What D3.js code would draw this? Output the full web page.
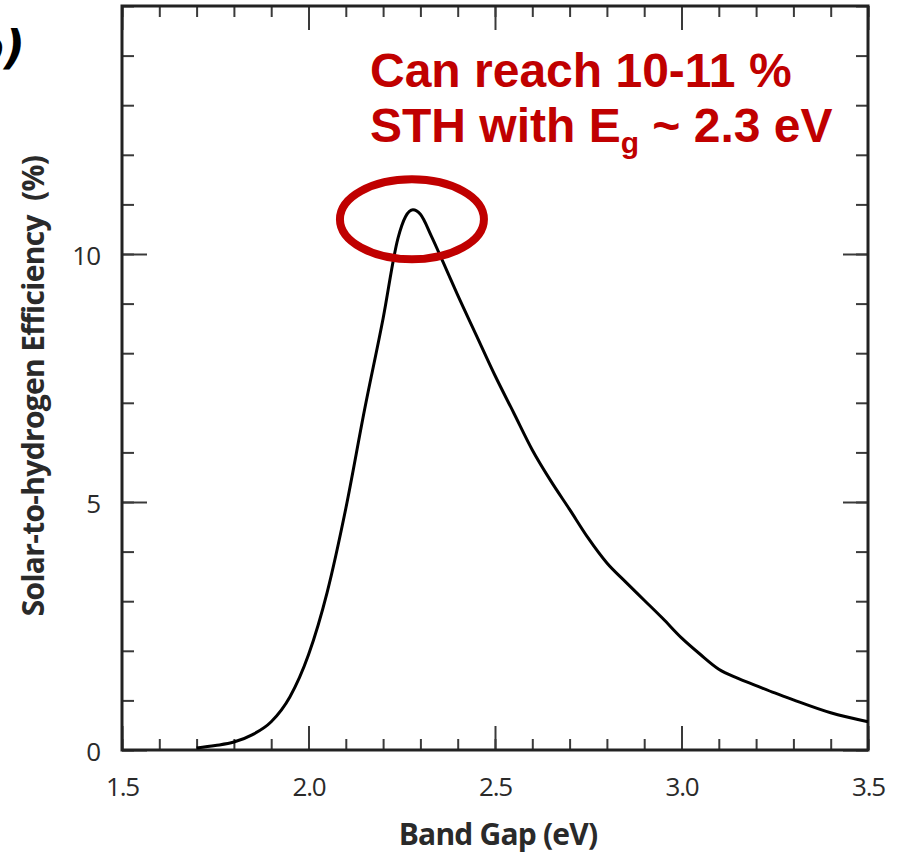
<!DOCTYPE html>
<html>
<head>
<meta charset="utf-8">
<script src="https://cdn.jsdelivr.net/npm/d3@7"></script>
<style>
  html, body { margin: 0; padding: 0; background: #fff; }
  svg { display: block; }
</style>
</head>
<body>
<svg id="chart-svg" width="897" height="855"></svg>
<script>
// band gap (eV) and solar-to-hydrogen efficiency (%)
const bandGap = [1.70, 1.75, 1.80, 1.85, 1.90, 1.95, 2.00, 2.05, 2.10, 2.15, 2.20, 2.24, 2.26, 2.28, 2.30,
                 2.33, 2.36, 2.40, 2.45, 2.50, 2.55, 2.60, 2.65, 2.70, 2.75, 2.80, 2.85, 2.90, 2.95, 3.00,
                 3.05, 3.10, 3.15, 3.20, 3.25, 3.30, 3.40, 3.50];
const sthEfficiency = [0.04, 0.09, 0.16, 0.31, 0.57, 1.07, 1.92, 3.18, 4.87, 6.85, 8.70, 10.32, 10.75, 10.89, 10.80,
                       10.35, 9.85, 9.17, 8.36, 7.55, 6.80, 6.05, 5.42, 4.85, 4.27, 3.77, 3.39, 3.02, 2.65, 2.26,
                       1.93, 1.63, 1.45, 1.30, 1.15, 1.01, 0.75, 0.57];

const xMajorTicks = [1.5, 2.0, 2.5, 3.0, 3.5];
const xMinorTicks = d3.range(1.5, 3.51, 0.1);
const yMajorTicks = [0, 5, 10];
const yMinorTicks = d3.range(0, 15.01, 1);

const annotationLines = ["Can reach 10-11 %", "STH with E"];
const peak = { x: 2.28, y: 10.7 };

function createChart() {
    const size = { left: 122, right: 868, top: 6, bottom: 750 };
    const svg = d3.select('#chart-svg');

    const xScale = d3.scaleLinear().domain([1.5, 3.5]).range([size.left, size.right]);
    const yScale = d3.scaleLinear().domain([0, 15]).range([size.bottom, size.top]);

    const tickColor = "#3a3a3a";

    function styleAxis(g) {
        g.select(".domain").remove();
        g.selectAll(".tick line").attr("stroke", tickColor).attr("stroke-width", 2);
    }

    // minor ticks, all four sides, pointing inward
    svg.append("g").attr("transform", `translate(0,${size.bottom})`)
        .call(d3.axisBottom(xScale).tickValues(xMinorTicks).tickSize(-11).tickFormat(""))
        .call(styleAxis);
    svg.append("g").attr("transform", `translate(0,${size.top})`)
        .call(d3.axisTop(xScale).tickValues(xMinorTicks).tickSize(-11).tickFormat(""))
        .call(styleAxis);
    svg.append("g").attr("transform", `translate(${size.left},0)`)
        .call(d3.axisLeft(yScale).tickValues(yMinorTicks).tickSize(-12).tickFormat(""))
        .call(styleAxis);
    svg.append("g").attr("transform", `translate(${size.right},0)`)
        .call(d3.axisRight(yScale).tickValues(yMinorTicks).tickSize(-12).tickFormat(""))
        .call(styleAxis);

    // major ticks with labels
    const labelFont = "'Open Sans', 'DejaVu Sans', sans-serif";
    svg.append("g").attr("transform", `translate(0,${size.bottom})`)
        .call(d3.axisBottom(xScale).tickValues(xMajorTicks).tickSize(-24).tickPadding(28).tickFormat(d3.format(".1f")))
        .call(styleAxis)
        .call(g => g.selectAll("text").attr("font-family", labelFont).attr("font-size", 26)
            .attr("letter-spacing", -1.2).attr("fill", "#2a2a2a"));
    svg.append("g").attr("transform", `translate(0,${size.top})`)
        .call(d3.axisTop(xScale).tickValues(xMajorTicks).tickSize(-24).tickFormat(""))
        .call(styleAxis);
    svg.append("g").attr("transform", `translate(${size.left},0)`)
        .call(d3.axisLeft(yScale).tickValues(yMajorTicks).tickSize(-25).tickPadding(22))
        .call(styleAxis)
        .call(g => g.selectAll("text").attr("font-family", labelFont).attr("font-size", 26)
            .attr("letter-spacing", -1).attr("fill", "#2a2a2a").attr("dy", "0.4em"));
    svg.append("g").attr("transform", `translate(${size.right},0)`)
        .call(d3.axisRight(yScale).tickValues(yMajorTicks).tickSize(-25).tickFormat(""))
        .call(styleAxis);

    // frame
    svg.append("rect")
        .attr("x", size.left)
        .attr("y", size.top)
        .attr("width", size.right - size.left)
        .attr("height", size.bottom - size.top)
        .attr("fill", "none")
        .attr("stroke", "#222")
        .attr("stroke-width", 3);

    // curve
    const line = d3.line()
        .x((d, i) => xScale(bandGap[i]))
        .y(d => yScale(d))
        .curve(d3.curveMonotoneX);

    svg.append("path")
        .datum(sthEfficiency)
        .attr("fill", "none")
        .attr("stroke", "#000")
        .attr("stroke-width", 3)
        .attr("stroke-linejoin", "round")
        .attr("d", line);

    // axis titles
    svg.append("text")
        .attr("x", 498)
        .attr("y", 845)
        .attr("text-anchor", "middle")
        .attr("font-family", labelFont)
        .attr("font-weight", "bold")
        .attr("font-size", 30)
        .attr("letter-spacing", -0.8)
        .attr("fill", "#2a2a2a")
        .text("Band Gap (eV)");

    svg.append("text")
        .attr("transform", "rotate(-90)")
        .attr("x", -386)
        .attr("y", 44)
        .attr("text-anchor", "middle")
        .attr("font-family", labelFont)
        .attr("font-weight", "bold")
        .attr("font-size", 30)
        .attr("letter-spacing", -0.7)
        .attr("fill", "#2a2a2a")
        .attr("xml:space", "preserve")
        .text("Solar-to-hydrogen Efficiency  (%)");

    // panel label, cut off at the left edge as in the source figure
    svg.append("text")
        .attr("x", 25)
        .attr("y", 63)
        .attr("text-anchor", "end")
        .attr("font-family", "'DejaVu Sans', sans-serif")
        .attr("font-weight", "bold")
        .attr("font-style", "italic")
        .attr("font-size", 46)
        .attr("fill", "#000")
        .text("b)");

    // annotation
    const red = "#c00000";
    svg.append("ellipse")
        .attr("cx", xScale(peak.x) - 1)
        .attr("cy", yScale(peak.y))
        .attr("rx", 72)
        .attr("ry", 40)
        .attr("fill", "none")
        .attr("stroke", red)
        .attr("stroke-width", 8);

    const note = svg.append("g")
        .attr("font-family", "'Liberation Sans', Arial, sans-serif")
        .attr("font-weight", "bold")
        .attr("font-size", 48)
        .attr("fill", red);

    note.append("text").attr("x", 370).attr("y", 87).text(annotationLines[0]);
    const second = note.append("text").attr("x", 370).attr("y", 142);
    second.append("tspan").text(annotationLines[1]);
    second.append("tspan").attr("font-size", 30).attr("dy", 11).text("g");
    second.append("tspan").attr("dy", -11).text(" ~ 2.3 eV");
}

createChart();
</script>
</body>
</html>
